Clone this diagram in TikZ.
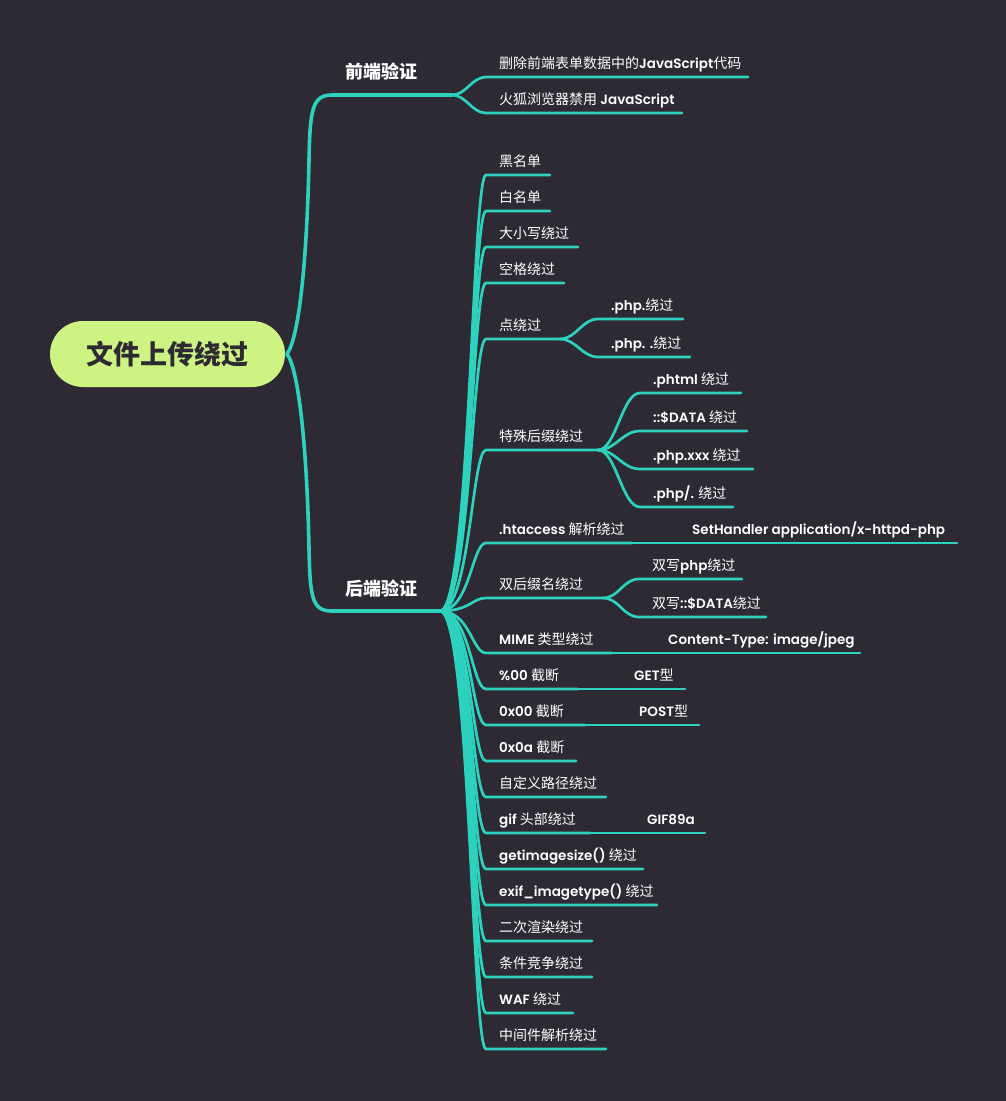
\documentclass[tikz,border=0pt]{standalone}
\usepackage{fontspec}
\setmainfont{Poppins}[UprightFont={* SemiBold},BoldFont={* Bold},Scale=0.965]
\newfontfamily\cjk{Noto Sans CJK SC}
\newcommand\zh[1]{{\cjk #1}}
\definecolor{bgC}{RGB}{46,42,51}
\definecolor{lineC}{RGB}{44,210,190}
\definecolor{rootC}{RGB}{205,243,130}
\tikzset{
  lt/.style={anchor=base west, inner sep=0pt, text=white, font=\fontsize{14}{16}\selectfont},
  br/.style={anchor=base west, inner sep=0pt, text=white, font=\fontsize{18}{20}\selectfont\bfseries\cjk},
  rootbox/.style={fill=rootC, rounded corners=33pt, minimum width=235pt, minimum height=66pt, inner sep=0pt,
    text=bgC, font=\fontsize{27}{30}\selectfont\bfseries\cjk},
  mainln/.style={draw=lineC, line width=3.6pt, line cap=round},
  ln/.style={draw=lineC, line width=2.7pt, line cap=round},
}
\newcommand\leaf[5]{%
  \node[lt] (#1) at (#2,#3-8.5) {#5};
  \coordinate (#1-s) at (#2-13,#3);
  \coordinate (#1-e) at (#4,#3);
}
\begin{document}
\begin{tikzpicture}[x=1pt,y=-1pt]
\fill[bgC] (0,0) rectangle (1006,1101);
\useasboundingbox (0,0) rectangle (1006,1101);

% root
\node[rootbox] (root) at (167.5,354) {文件上传绕过};
\coordinate (r) at (287,354);

% branches
\node[br] (front) at (345,78) {前端验证};
\node[br] (back) at (345,595) {后端验证};
\coordinate (jF) at (452,95);
\coordinate (jB) at (440,611);

\draw[mainln] (r) .. controls (299,338) and (307,260) .. (309,160)
  .. controls (310,110) and (312,95) .. (332,95) -- (jF);
\draw[mainln] (r) .. controls (299,370) and (307,450) .. (309,548)
  .. controls (310,598) and (312,611) .. (332,611) -- (jB);

% front leaves
\leaf{f1}{499}{77}{748}{\zh{删除前端表单数据中的}JavaScript\zh{代码}}
\leaf{f2}{499}{113}{682}{\zh{火狐浏览器禁用} JavaScript}
\foreach \n in {f1,f2}
  \draw[ln] (jF) .. controls +(14,0) and +(-14,0) .. (\n-s) -- (\n-e);

% back leaves
\leaf{b1}{499}{175}{550}{\zh{黑名单}}
\leaf{b2}{499}{211}{550}{\zh{白名单}}
\leaf{b3}{499}{247}{578}{\zh{大小写绕过}}
\leaf{b4}{499}{283}{564}{\zh{空格绕过}}
\leaf{b5}{499}{339}{560}{\zh{点绕过}}
\leaf{b6}{499}{450}{598}{\zh{特殊后缀绕过}}
\leaf{b7}{499}{543}{632}{.htaccess \zh{解析绕过}}
\leaf{b8}{499}{598}{603}{\zh{双后缀名绕过}}
\leaf{b9}{499}{653}{612}{MIME \zh{类型绕过}}
\leaf{b10}{499}{689}{578}{\%00 \zh{截断}}
\leaf{b11}{499}{725}{585}{0x00 \zh{截断}}
\leaf{b12}{499}{761}{576}{0x0a \zh{截断}}
\leaf{b13}{499}{797}{606}{\zh{自定义路径绕过}}
\leaf{b14}{499}{833}{590}{gif \zh{头部绕过}}
\leaf{b15}{499}{869}{643}{getimagesize() \zh{绕过}}
\leaf{b16}{499}{905}{657}{exif\_imagetype() \zh{绕过}}
\leaf{b17}{499}{941}{592}{\zh{二次渲染绕过}}
\leaf{b18}{499}{977}{592}{\zh{条件竞争绕过}}
\leaf{b19}{499}{1013}{573}{WAF \zh{绕过}}
\leaf{b20}{499}{1049}{606}{\zh{中间件解析绕过}}
\foreach \n in {b1,b2,b3,b4,b5,b6,b7,b8,b9,b10,b11,b12,b13,b14,b15,b16,b17,b18,b19,b20}
  \draw[ln] (jB) .. controls +(30,0) and +(-14,0) .. (\n-s) -- (\n-e);

% sub leaves of 点绕过
\leaf{b5a}{611}{319}{683}{.php.\zh{绕过}}
\leaf{b5b}{611}{357}{690}{.php. .\zh{绕过}}
\foreach \n in {b5a,b5b}
  \draw[ln] (b5-e) .. controls +(16,0) and +(-16,0) .. (\n-s) -- (\n-e);

% sub leaves of 特殊后缀绕过
\leaf{b6a}{653}{393}{741}{.phtml \zh{绕过}}
\leaf{b6b}{653}{431}{747}{::\$DATA \zh{绕过}}
\leaf{b6c}{653}{469}{753}{.php.xxx \zh{绕过}}
\leaf{b6d}{653}{507}{733}{.php/. \zh{绕过}}
\foreach \n in {b6a,b6b,b6c,b6d}
  \draw[ln] (b6-e) .. controls +(18,0) and +(-18,0) .. (\n-s) -- (\n-e);

% sub leaves of 双后缀名绕过
\leaf{b8a}{652}{579}{742}{\zh{双写}php\zh{绕过}}
\leaf{b8b}{652}{617}{766}{\zh{双写}::\$DATA\zh{绕过}}
\foreach \n in {b8a,b8b}
  \draw[ln] (b8-e) .. controls +(16,0) and +(-16,0) .. (\n-s) -- (\n-e);

% straight children
\leaf{b7a}{692}{543}{957}{SetHandler application/x-httpd-php}
\leaf{b9a}{668}{653}{860}{Content-Type: image/jpeg}
\leaf{b10a}{634}{689}{685}{GET\zh{型}}
\leaf{b11a}{639}{725}{699}{POST\zh{型}}
\leaf{b14a}{647}{833}{705}{GIF89a}
\draw[ln] (b7-e) -- (b7a-s) -- (b7a-e);
\draw[ln] (b9-e) -- (b9a-s) -- (b9a-e);
\draw[ln] (b10-e) -- (b10a-s) -- (b10a-e);
\draw[ln] (b11-e) -- (b11a-s) -- (b11a-e);
\draw[ln] (b14-e) -- (b14a-s) -- (b14a-e);
\end{tikzpicture}
\end{document}
